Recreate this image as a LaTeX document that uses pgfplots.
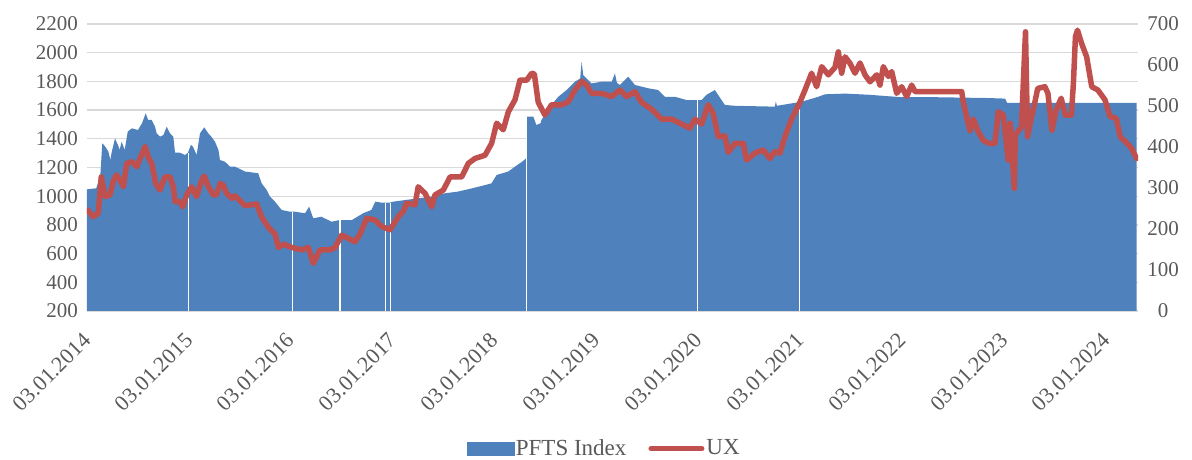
\documentclass[border=0pt]{standalone}
\usepackage{fontspec}
\setmainfont{Liberation Serif}
\usepackage{pgfplots}
\pgfplotsset{compat=1.18}
\definecolor{pftsblue}{RGB}{79,129,189}
\definecolor{uxred}{RGB}{192,80,77}
\definecolor{labelgray}{RGB}{89,89,89}
\definecolor{gridgray}{RGB}{217,217,217}

\begin{document}
\fontsize{21}{25}\selectfont
\begin{tikzpicture}
\pgfplotsset{
  every axis/.append style={
    scale only axis, width=1051pt, height=287pt,
    at={(0,0)}, anchor=south west,
    xmin=2014, xmax=2024.314,
    /pgf/number format/assume math mode=true,
    /pgf/number format/1000 sep={},
    tick label style={font=\fontsize{21}{25}\selectfont, text=labelgray},
    major tick length=0pt,
  }
}
% PFTS Index (left axis)
\begin{axis}[
  ymin=200, ymax=2200, ytick={200,400,...,2200},
  xtick={2014,2015,...,2024},
  xticklabels={03.01.2014,03.01.2015,03.01.2016,03.01.2017,03.01.2018,03.01.2019,03.01.2020,03.01.2021,03.01.2022,03.01.2023,03.01.2024},
  xticklabel style={font=\fontsize{22}{26}\selectfont, xshift=0pt, yshift=-26pt, rotate=45, anchor=east, inner sep=0pt},
  yticklabel style={xshift=-2pt},
  ymajorgrids, grid style={gridgray, line width=1.3pt},
  axis x line*=bottom, axis y line*=left,
  y axis line style={draw=none},
  x axis line style={gridgray, line width=1.3pt},
]
\addplot[fill=pftsblue, draw=none] coordinates {
(2014.00,1048) (2014.09,1055) (2014.13,1136) (2014.15,1368) (2014.18,1345)
(2014.21,1310) (2014.23,1252) (2014.24,1299) (2014.275,1403) (2014.31,1345)
(2014.32,1322) (2014.34,1380) (2014.37,1322) (2014.40,1450) (2014.44,1473)
(2014.50,1461) (2014.54,1508) (2014.576,1578) (2014.60,1531) (2014.635,1531)
(2014.667,1485) (2014.684,1438) (2014.716,1415) (2014.75,1426) (2014.782,1484)
(2014.815,1438) (2014.847,1415) (2014.864,1303) (2014.913,1303) (2014.962,1287)
(2014.99,1303) (2015.02,1357) (2015.04,1345) (2015.076,1287) (2015.109,1438)
(2015.151,1480) (2015.19,1438) (2015.22,1415) (2015.256,1380) (2015.29,1322)
(2015.305,1252) (2015.354,1240) (2015.403,1206) (2015.452,1206) (2015.55,1172)
(2015.68,1160) (2015.714,1090) (2015.763,1043) (2015.796,997) (2015.845,962)
(2015.91,904) (2015.99,892) (2016.04,892) (2016.14,881) (2016.18,927)
(2016.22,846) (2016.30,857) (2016.40,822) (2016.48,834) (2016.60,834)
(2016.71,881) (2016.79,904) (2016.83,962) (2016.89,955) (2016.97,955)
(2017.006,962) (2017.12,973) (2017.25,985) (2017.38,997) (2017.51,1020)
(2017.64,1032) (2017.78,1055) (2017.91,1078) (2017.97,1090) (2018.02,1148)
(2018.135,1172) (2018.20,1206) (2018.27,1240) (2018.31,1264) (2018.32,1554)
(2018.38,1554) (2018.41,1496) (2018.45,1508) (2018.46,1531) (2018.53,1612)
(2018.625,1693) (2018.707,1740) (2018.788,1798) (2018.84,1820) (2018.854,1937)
(2018.87,1844) (2018.95,1786) (2019.05,1798) (2019.15,1798) (2019.181,1856)
(2019.20,1790) (2019.23,1775) (2019.311,1833) (2019.377,1775) (2019.508,1752)
(2019.606,1740) (2019.672,1693) (2019.77,1693) (2019.884,1670) (2019.966,1670)
(2020.031,1670) (2020.08,1707) (2020.162,1740) (2020.227,1670) (2020.26,1636)
(2020.358,1630) (2020.75,1624) (2020.76,1660) (2020.77,1630) (2020.917,1647)
(2021.013,1658) (2021.177,1693) (2021.242,1710) (2021.44,1715) (2021.67,1707)
(2021.99,1690) (2022.31,1690) (2022.85,1684) (2023.01,1680) (2023.03,1650)
(2024.30,1650)
} \closedcycle;
% missing trading days show as thin white gaps
\addplot[ycomb, white, line width=1.2pt] coordinates {
(2014.998,1303) (2016.018,892) (2016.483,834) (2016.93,955) (2016.975,955)
(2018.315,1554) (2019.99,1670) (2020.99,1650)
};
\end{axis}
% UX (right axis)
\begin{axis}[
  ymin=0, ymax=700, ytick={0,100,...,700},
  axis y line*=right, axis x line=none,
  y axis line style={draw=none},
  yticklabel style={anchor=center, xshift=25pt, inner sep=0pt},
  legend style={at={(0.492,-0.48)}, anchor=center, draw=none, fill=none,
    legend columns=2, font=\fontsize{23}{27}\selectfont, text=labelgray,
    nodes={inner ysep=1pt},
    /tikz/every even column/.append style={column sep=20pt}},
]
\addlegendimage{legend image code/.code={\fill[pftsblue] (-8pt,-6.5pt) rectangle (39pt,6.5pt);}}
\addlegendentry{PFTS Index}
\addplot[uxred, line width=5.5pt, line join=round, line cap=round,
  legend image code/.code={\draw[uxred, line width=5pt, line cap=round] (0pt,0pt) -- (51pt,0pt);}]
coordinates {
(2014.007,246) (2014.06,230) (2014.11,238) (2014.14,327) (2014.18,279)
(2014.226,283) (2014.26,319) (2014.29,332) (2014.324,319) (2014.357,303)
(2014.39,360) (2014.438,364) (2014.49,352) (2014.52,372) (2014.57,401)
(2014.60,376) (2014.635,360) (2014.674,311) (2014.716,295) (2014.765,327)
(2014.815,327) (2014.847,303) (2014.864,267) (2014.913,267) (2014.94,254)
(2014.978,283) (2015.027,303) (2015.076,279) (2015.125,319) (2015.151,329)
(2015.191,303) (2015.24,283) (2015.27,283) (2015.305,311) (2015.338,307)
(2015.37,287) (2015.42,275) (2015.452,281) (2015.55,257) (2015.665,261)
(2015.714,229) (2015.78,204) (2015.845,188) (2015.878,155) (2015.927,163)
(2016.009,155) (2016.107,149) (2016.172,155) (2016.221,116) (2016.286,149)
(2016.385,149) (2016.434,155) (2016.5,185) (2016.565,177) (2016.63,169)
(2016.68,188) (2016.745,226) (2016.826,222) (2016.892,206) (2016.973,198)
(2017.055,230) (2017.104,243) (2017.137,263) (2017.219,259) (2017.25,303)
(2017.317,287) (2017.383,254) (2017.415,283) (2017.497,295) (2017.563,327)
(2017.677,327) (2017.742,360) (2017.808,372) (2017.906,380) (2017.971,409)
(2018.02,458) (2018.085,442) (2018.135,486) (2018.2,515) (2018.249,563)
(2018.315,563) (2018.364,580) (2018.39,578) (2018.428,509) (2018.494,478)
(2018.559,503) (2018.658,503) (2018.723,510) (2018.788,539) (2018.854,560)
(2018.903,551) (2018.952,531) (2019.05,531) (2019.148,523) (2019.23,539)
(2019.295,523) (2019.377,535) (2019.442,509) (2019.541,492) (2019.639,468)
(2019.737,468) (2019.835,456) (2019.917,446) (2019.966,468) (2020.031,456)
(2020.096,503) (2020.145,482) (2020.194,425) (2020.26,427) (2020.292,387)
(2020.358,409) (2020.44,409) (2020.472,368) (2020.554,385) (2020.635,393)
(2020.701,372) (2020.75,389) (2020.8,385) (2020.849,425) (2020.914,468)
(2020.996,509) (2021.046,539) (2021.111,580) (2021.16,547) (2021.21,596)
(2021.275,576) (2021.34,594) (2021.373,632) (2021.406,580) (2021.439,620)
(2021.488,604) (2021.537,580) (2021.586,605) (2021.635,576) (2021.684,559)
(2021.75,576) (2021.782,551) (2021.815,596) (2021.864,572) (2021.897,584)
(2021.946,531) (2021.995,547) (2022.044,523) (2022.093,551) (2022.126,535)
(2022.584,535) (2022.6,509) (2022.63,476) (2022.665,440) (2022.698,468)
(2022.747,437) (2022.796,416) (2022.861,408) (2022.91,409) (2022.943,486)
(2022.992,478) (2023.04,368) (2023.06,458) (2023.08,380) (2023.10,299)
(2023.11,430) (2023.17,449) (2023.21,681) (2023.23,425) (2023.27,474)
(2023.30,507) (2023.33,543) (2023.40,547) (2023.43,531) (2023.47,441)
(2023.51,490) (2023.56,519) (2023.60,478) (2023.66,478) (2023.68,555)
(2023.70,669) (2023.72,685) (2023.76,653) (2023.81,620) (2023.86,547)
(2023.92,539) (2023.99,515) (2024.04,474) (2024.10,470) (2024.14,425)
(2024.19,413) (2024.25,397) (2024.30,372)
};
\addlegendentry{UX}
\end{axis}
\pgfresetboundingbox
\useasboundingbox (-87pt,-149pt) rectangle (1105pt,311pt);
\end{tikzpicture}
\end{document}
